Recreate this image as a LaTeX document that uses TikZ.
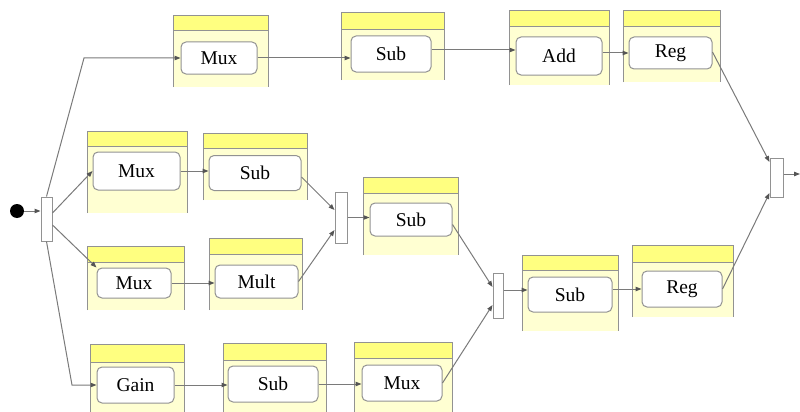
\documentclass[tikz,border=0pt]{standalone}
\usepackage{fontspec}
\setmainfont{Liberation Serif}
\usetikzlibrary{arrows.meta}
\definecolor{hdryellow}{HTML}{FFFF80}
\definecolor{bodyyellow}{HTML}{FFFFD2}
\definecolor{pgray}{HTML}{929292}
\definecolor{lgray}{HTML}{7A7A7A}
\definecolor{tipgray}{HTML}{555555}
\tikzset{
  box/.style={draw=pgray, fill=white, rounded corners=5pt, line width=1pt, inner sep=0pt,
    font=\fontsize{19.5}{22}\selectfont, text=black},
  barbox/.style={draw=pgray, fill=white, line width=1pt, inner sep=0pt},
  conn/.style={draw=lgray, line width=1pt, -{Triangle[length=6pt,width=4.5pt,fill=tipgray,color=tipgray]}},
  pline/.style={draw=pgray, line width=1pt},
}
\newcommand\panel[5]{%
  \fill[bodyyellow] (#1,#2) rectangle (#3,#4);
  \fill[hdryellow] (#1,#2) rectangle (#3,#5);
  \draw[pline] (#1,#4) -- (#1,#2) -- (#3,#2) -- (#3,#4);
  \draw[pline] (#1,#5) -- (#3,#5);
}
\begin{document}
\begin{tikzpicture}[x=1pt,y=-1pt]
\useasboundingbox (0,0) rectangle (800,412);
% panels
\panel{173}{16}{268}{87}{31}
\panel{341}{13}{444}{80}{30}
\panel{509}{11}{609}{85}{27}
\panel{623}{11}{720}{82}{27}
\panel{87}{131}{187}{213}{146}
\panel{203}{133}{307}{200}{148}
\panel{363}{177}{458}{255}{193}
\panel{87}{246}{184}{310}{262}
\panel{209}{238}{302}{310}{254}
\panel{522}{255}{618}{331}{270}
\panel{632}{245}{733}{317}{262}
\panel{90}{344}{184}{412}{362}
\panel{223}{343}{326}{412}{360}
\panel{354}{342}{452}{412}{358}
% blocks
\node[box, minimum width=76pt, minimum height=32pt] (muxA) at (219,58) {Mux};
\node[box, minimum width=80pt, minimum height=36pt] (subA) at (391,54) {Sub};
\node[box, minimum width=86pt, minimum height=38pt] (addA) at (559,56) {Add};
\node[box, minimum width=83pt, minimum height=32pt] (regA) at (670.5,53) {Reg};
\node[box, minimum width=87pt, minimum height=38pt] (muxB) at (136.5,171) {Mux};
\node[box, minimum width=92pt, minimum height=35pt] (subB) at (255,173) {Sub};
\node[box, minimum width=82pt, minimum height=33pt] (subC) at (411,219.5) {Sub};
\node[box, minimum width=74pt, minimum height=30pt] (muxC) at (134,283) {Mux};
\node[box, minimum width=83pt, minimum height=33pt] (mult) at (256.5,281.5) {Mult};
\node[box, minimum width=84pt, minimum height=35pt] (subD) at (570,294.5) {Sub};
\node[box, minimum width=80pt, minimum height=36pt] (regB) at (682,289) {Reg};
\node[box, minimum width=77pt, minimum height=36pt] (gain) at (135.5,385) {Gain};
\node[box, minimum width=90pt, minimum height=36pt] (subE) at (273,384) {Sub};
\node[box, minimum width=80pt, minimum height=36pt] (muxD) at (402,383) {Mux};
% start and bars
\node[circle, fill=black, minimum size=14pt, inner sep=0pt] (start) at (17,211) {};
\node[barbox, minimum width=11pt, minimum height=44pt] (forkA) at (46.5,219) {};
\node[barbox, minimum width=12pt, minimum height=51pt] (joinB) at (341,217.5) {};
\node[barbox, minimum width=10pt, minimum height=45pt] (joinC) at (498,295.5) {};
\node[barbox, minimum width=13pt, minimum height=39pt] (joinD) at (776.5,177.5) {};
\coordinate (bendA) at (84,58);
\coordinate (bendB) at (72,385);
\coordinate (outEnd) at (800,174);
% connectors
\draw[conn] (start) -- (start -| forkA.west);
\draw[conn] (forkA.north) -- (bendA) -- (muxA.west);
\draw[conn] ([yshift=6pt]forkA.east) -- (muxB.west);
\draw[conn] ([yshift=-6pt]forkA.east) -- (muxC.north west);
\draw[conn] (forkA.south) -- (bendB) -- (gain.west);
\draw[conn] (muxA.east) -- (muxA.east -| subA.west);
\draw[conn] ([yshift=4pt]subA.east) -- ([yshift=4pt]subA.east -| addA.west);
\draw[conn] ([yshift=3pt]addA.east) -- ([yshift=3pt]addA.east -| regA.west);
\draw[conn] ([yshift=1pt]regA.east) -- ([yshift=15.5pt]joinD.west);
\draw[conn] (muxB.east) -- (muxB.east -| subB.west);
\draw[conn] ([yshift=-4pt]subB.east) -- ([yshift=7.5pt]joinB.west);
\draw[conn] (muxC.east) -- (muxC.east -| mult.west);
\draw[conn] (mult.east) -- ([yshift=-12.5pt]joinB.west);
\draw[conn] (joinB.east) -- (joinB.east -| subC.west);
\draw[conn] ([yshift=-5pt]subC.east) -- ([yshift=8.5pt]joinC.west);
\draw[conn] (gain.east) -- (gain.east -| subE.west);
\draw[conn] (subE.east) -- (subE.east -| muxD.west);
\draw[conn] (muxD.east) -- ([yshift=-9.5pt]joinC.west);
\draw[conn] ([yshift=5.5pt]joinC.east) -- ([yshift=5.5pt]joinC.east -| subD.west);
\draw[conn] ([yshift=5.5pt]subD.east) -- ([yshift=5.5pt]subD.east -| regB.west);
\draw[conn] (regB.east) -- ([yshift=-15.5pt]joinD.west);
\draw[conn] ([yshift=3.5pt]joinD.east) -- (outEnd);
\end{tikzpicture}
\end{document}
